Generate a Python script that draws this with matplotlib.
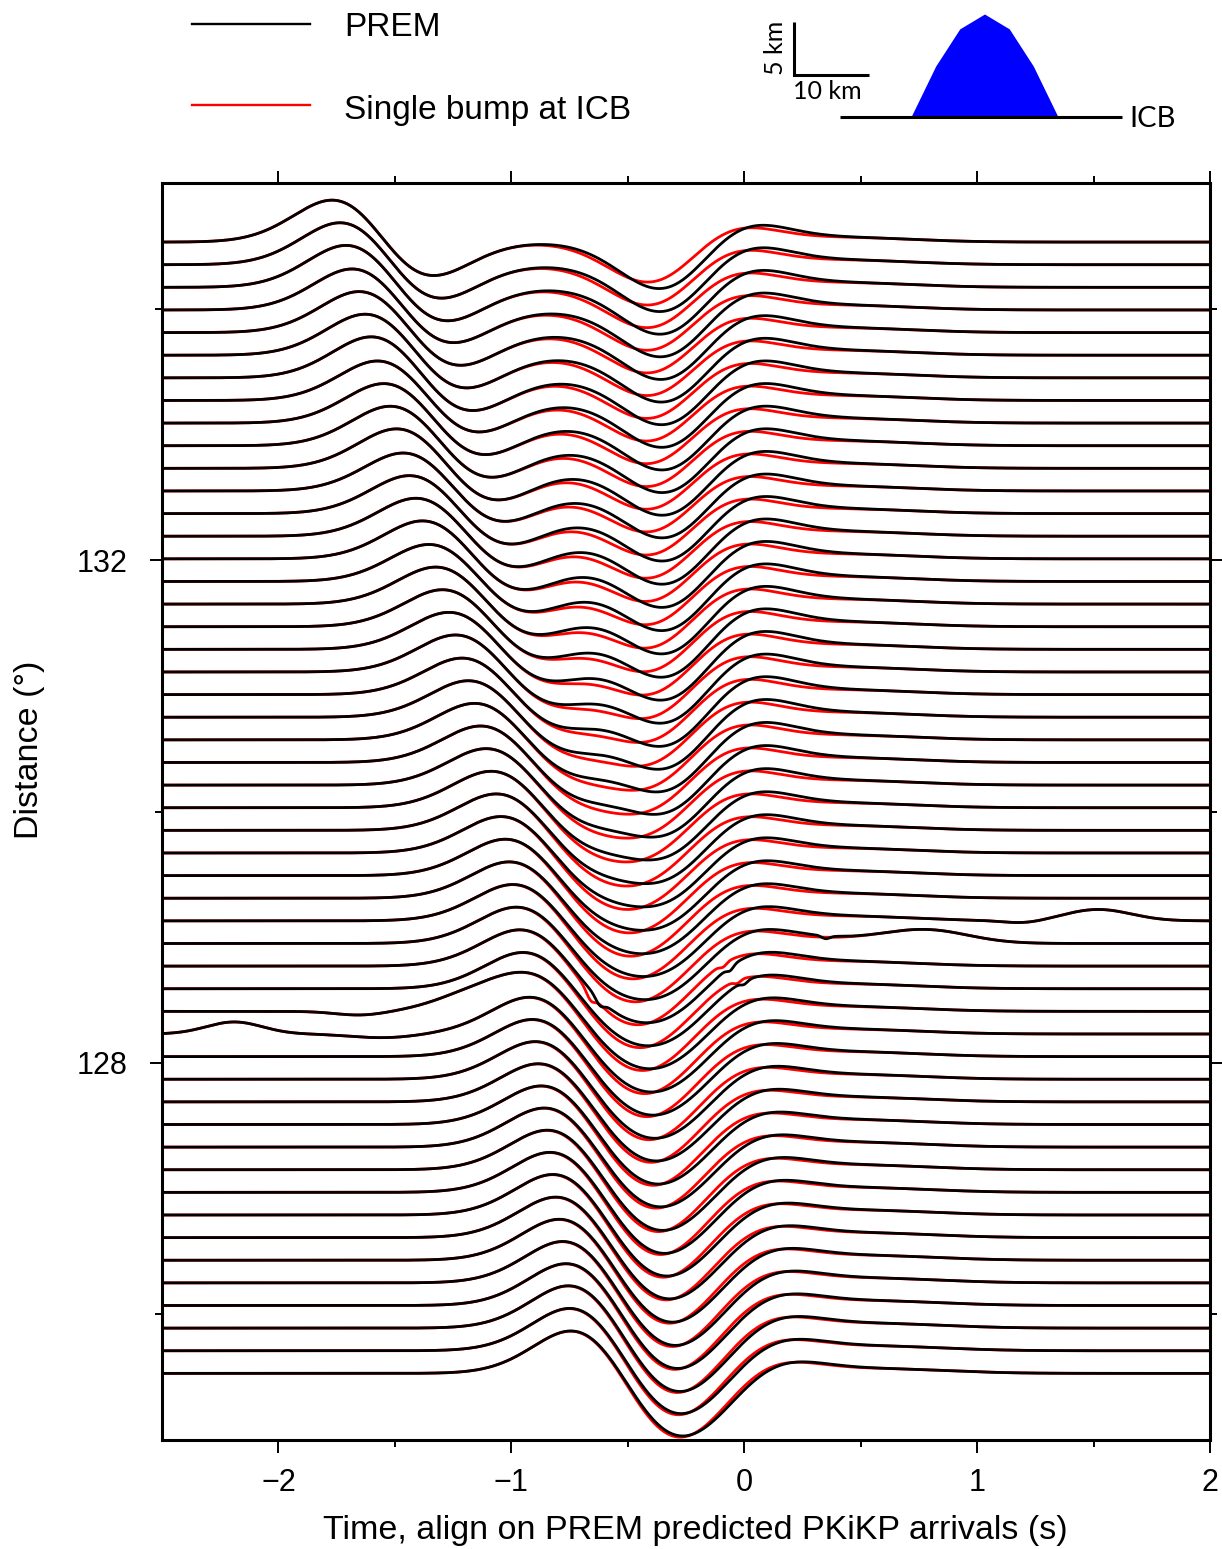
import numpy as np
import matplotlib
matplotlib.use("Agg")
import matplotlib.pyplot as plt
from matplotlib.lines import Line2D
from matplotlib.ticker import FixedLocator

plt.rcParams['font.family'] = ['Liberation Sans', 'DejaVu Sans']

# ---------------------------------------------------------------------------
# Record section data (one entry per synthetic station, bottom to top)
# ---------------------------------------------------------------------------
distance = [125.53, 125.71, 125.89, 126.07, 126.25, 126.43, 126.61, 126.79, 126.97, 127.15,
            127.33, 127.51, 127.69, 127.87, 128.05, 128.23, 128.41, 128.59, 128.77, 128.95,
            129.13, 129.31, 129.49, 129.67, 129.85, 130.03, 130.21, 130.39, 130.57, 130.75,
            130.93, 131.11, 131.29, 131.47, 131.65, 131.83, 132.01, 132.19, 132.37, 132.55,
            132.73, 132.91, 133.09, 133.27, 133.45, 133.63, 133.81, 133.99, 134.17, 134.35,
            134.53]

# PKIKP (DF): time (s) and height of its first positive swing
df_peak_time = [-0.740, -0.745, -0.750, -0.760, -0.775, -0.790, -0.805, -0.818, -0.830, -0.842,
                -0.855, -0.868, -0.881, -0.894, -0.907, -0.920, -0.934, -0.948, -0.962, -0.977,
                -0.992, -1.008, -1.025, -1.044, -1.064, -1.086, -1.108, -1.132, -1.158, -1.185,
                -1.212, -1.240, -1.268, -1.296, -1.325, -1.354, -1.382, -1.410, -1.438, -1.465,
                -1.493, -1.520, -1.548, -1.575, -1.602, -1.628, -1.654, -1.684, -1.710, -1.736,
                -1.770]
df_peak_amp = [0.678, 0.678, 0.678, 0.670, 0.662, 0.655, 0.647, 0.647, 0.639, 0.631,
               0.623, 0.615, 0.607, 0.599, 0.591, 0.584, 0.576, 0.576, 0.576, 0.576,
               0.576, 0.576, 0.576, 0.576, 0.576, 0.576, 0.576, 0.576, 0.576, 0.576,
               0.576, 0.584, 0.584, 0.584, 0.584, 0.584, 0.599, 0.599, 0.599, 0.599,
               0.623, 0.623, 0.623, 0.623, 0.647, 0.647, 0.647, 0.647, 0.662, 0.662,
               0.662]

# PKiKP (ICB reflection) in PREM: time (s) and depth of its main trough
icb_trough_time = [-0.210, -0.220, -0.225, -0.235, -0.240, -0.250, -0.260, -0.270, -0.280, -0.285,
                   -0.290, -0.300, -0.305, -0.310, -0.315, -0.320, -0.325, -0.330, -0.335, -0.340,
                   -0.345, -0.350, -0.350, -0.352, -0.352, -0.352, -0.352, -0.352, -0.352, -0.352,
                   -0.352, -0.352, -0.352, -0.352, -0.352, -0.352, -0.352, -0.352, -0.352, -0.352,
                   -0.352, -0.352, -0.353, -0.354, -0.355, -0.356, -0.358, -0.360, -0.362, -0.363,
                   -0.365]
icb_trough_depth = [0.489, 0.489, 0.497, 0.497, 0.505, 0.505, 0.505, 0.505, 0.513, 0.521,
                    0.521, 0.528, 0.536, 0.552, 0.560, 0.568, 0.576, 0.584, 0.591, 0.599,
                    0.607, 0.623, 0.639, 0.655, 0.678, 0.694, 0.718, 0.741, 0.765, 0.781,
                    0.789, 0.789, 0.789, 0.789, 0.781, 0.773, 0.765, 0.757, 0.749, 0.741,
                    0.741, 0.741, 0.741, 0.741, 0.741, 0.741, 0.741, 0.741, 0.741, 0.741,
                    0.735]

# Single-bump model: PKiKP time shift (s) and amplitude ratio relative to PREM
bump_shift = [-0.025, -0.026, -0.027, -0.028, -0.029, -0.030, -0.032, -0.034, -0.036, -0.038,
              -0.040, -0.042, -0.044, -0.046, -0.048, -0.050, -0.052, -0.054, -0.056, -0.058,
              -0.060, -0.062, -0.063, -0.064, -0.065, -0.066, -0.066, -0.067, -0.067, -0.068,
              -0.067, -0.068, -0.068, -0.068, -0.068, -0.068, -0.068, -0.068, -0.068, -0.068,
              -0.068, -0.068, -0.068, -0.066, -0.064, -0.062, -0.060, -0.058, -0.056, -0.053,
              -0.050]
bump_ratio = [1.000, 1.000, 0.995, 0.990, 0.990, 0.985, 0.980, 0.980, 0.975, 0.970,
              0.965, 0.960, 0.955, 0.950, 0.945, 0.940, 0.935, 0.930, 0.925, 0.920,
              0.915, 0.910, 0.905, 0.900, 0.895, 0.890, 0.885, 0.880, 0.875, 0.870,
              0.870, 0.870, 0.870, 0.870, 0.870, 0.870, 0.870, 0.870, 0.870, 0.870,
              0.870, 0.870, 0.865, 0.865, 0.865, 0.860, 0.860, 0.860, 0.860, 0.860,
              0.860]

# Numerical artefacts: (trace index, time, amplitude, width)
artefacts_both = [(15, -2.19, 0.19, 0.17), (15, -1.55, -0.06, 0.20),
                  (16, -1.65, -0.06, 0.15), (16, -1.20, 0.17, 0.22),
                  (19, 0.79, 0.185, 0.25), (20, 1.52, 0.18, 0.20), (20, 1.20, -0.04, 0.12)]
artefacts_prem = [(18, -0.62, -0.095, 0.025), (18, -0.06, -0.063, 0.02),
                  (17, 0.00, -0.047, 0.02), (19, 0.35, -0.047, 0.025)]
artefacts_bump = [(18, -0.66, -0.11, 0.025), (18, -0.09, -0.05, 0.02),
                  (17, -0.03, -0.047, 0.02)]

# ICB topography drawn in the inset (km)
bump_x_km = [-9.8, -6.5, -3.3, 0.0, 3.3, 6.5, 9.8]
bump_h_km = [0.0, 4.8, 8.3, 9.7, 8.3, 4.8, 0.0]

# ---------------------------------------------------------------------------
# Wavelet model: Gaussian times a linear term (one peak and one trough)
# ---------------------------------------------------------------------------
S_DF, K_DF = 0.3085, 0.08      # PKIKP: peak first, then trough
S_ICB, K_ICB = 0.297, 0.40     # PKiKP: trough first, then smaller peak
CODA_AMP, CODA_DELAY, CODA_WIDTH = 0.071, 0.80, 0.40
TRACE_SCALE = 0.504            # degrees of offset per unit amplitude

t = np.arange(-2.5, 2.0001, 0.004)


def df_wavelet(tp, amp):
    u0 = (K_DF - np.sqrt(K_DF ** 2 + 2)) / 2
    f0 = np.exp(-u0 ** 2) * (K_DF - u0)
    u = (t - tp) / S_DF + u0
    return amp / f0 * np.exp(-u ** 2) * (K_DF - u)


def icb_wavelet(tt, depth):
    u0 = (K_ICB - np.sqrt(K_ICB ** 2 + 2)) / 2
    f0 = np.exp(-u0 ** 2) * (K_ICB - u0)
    u = (t - tt) / S_ICB + u0
    return depth / f0 * np.exp(-u ** 2) * (u - K_ICB)


def bumps(items, i):
    s = np.zeros_like(t)
    for k, tc, a, w in items:
        if k == i:
            s += a * np.exp(-((t - tc) / w) ** 2)
    return s


def trace(i, shift=0.0, ratio=1.0):
    s = df_wavelet(df_peak_time[i], df_peak_amp[i])
    s = s + icb_wavelet(icb_trough_time[i] + shift, ratio * icb_trough_depth[i])
    s = s + CODA_AMP * np.exp(-((t - icb_trough_time[i] - CODA_DELAY) / CODA_WIDTH) ** 2)
    return s


W, H, DPI = 1222, 1549, 100
fig = plt.figure(figsize=(W / DPI, H / DPI), dpi=DPI)
ax = fig.add_axes([162 / W, 1 - 1440 / H, (1210 - 162) / W, (1440 - 183) / H])

n = len(distance)
for i in range(n):
    s = trace(i, bump_shift[i], bump_ratio[i]) + bumps(artefacts_both, i) + bumps(artefacts_bump, i)
    ax.plot(t, distance[i] + TRACE_SCALE * s, color='#ff0000', lw=2.0, zorder=2)
for i in range(n):
    s = trace(i) + bumps(artefacts_both, i) + bumps(artefacts_prem, i)
    ax.plot(t, distance[i] + TRACE_SCALE * s, color='black', lw=2.0, zorder=3)

ax.set_xlim(-2.5, 2.0)
ax.set_ylim(125, 135)
ax.xaxis.set_major_locator(FixedLocator([-2, -1, 0, 1, 2]))
ax.xaxis.set_minor_locator(FixedLocator([-1.5, -0.5, 0.5, 1.5]))
ax.yaxis.set_major_locator(FixedLocator([128, 132]))
ax.yaxis.set_minor_locator(FixedLocator([126, 130, 134]))
ax.tick_params(which='both', direction='out', top=True, right=True, width=1.4,
               labelsize=22, colors='black')
ax.tick_params(which='major', length=9)
ax.tick_params(which='minor', length=5)
ax.tick_params(axis='x', which='major', pad=11)
ax.tick_params(axis='y', which='major', pad=16)
for sp in ax.spines.values():
    sp.set_linewidth(2.2)

fig.text(695 / W, 1 - 1530 / H, 'Time, align on PREM predicted PKiKP arrivals (s)',
         ha='center', va='center', fontsize=24.5)
fig.text(30 / W, 1 - 750 / H, 'Distance (°)', ha='center', va='center',
         rotation=90, fontsize=24.5)

# Legend
fig.add_artist(Line2D([192 / W, 310 / W], [1 - 24 / H, 1 - 24 / H],
                      transform=fig.transFigure, color='black', lw=1.7))
fig.add_artist(Line2D([192 / W, 310 / W], [1 - 105 / H, 1 - 105 / H],
                      transform=fig.transFigure, color='#ff0000', lw=1.7))
fig.text(344 / W, 1 - 36 / H, 'PREM', ha='left', va='baseline', fontsize=24)
fig.text(344 / W, 1 - 119 / H, 'Single bump at ICB', ha='left', va='baseline', fontsize=24)

# Inset: bump on the inner-core boundary with scale bars
ins = fig.add_axes([760 / W, 1 - 150 / H, 462 / W, 150 / H])
ins.set_xlim(-30.0, 31.6)
ins.set_ylim(-3.08, 11.07)
ins.axis('off')
ins.fill(bump_x_km, bump_h_km, color='#0000ff', lw=0)
ins.plot([-19.3, 18.3], [0, 0], color='black', lw=2.2, solid_capstyle='butt')
ins.plot([-25.47, -25.47, -15.47], [9.0, 4.0, 4.0], color='black', lw=2.2,
         solid_capstyle='butt', solid_joinstyle='miter')
inset_font = ['Lato', 'DejaVu Sans']
ins.text(-27.9, 6.6, '5 km', rotation=90, ha='center', va='center', fontsize=18,
         family=inset_font)
ins.text(-21.0, 2.45, '10 km', ha='center', va='center', fontsize=18, family=inset_font)
ins.text(19.2, -0.2, 'ICB', ha='left', va='center', fontsize=21, family=inset_font)

fig.savefig('out.png', dpi=DPI)
